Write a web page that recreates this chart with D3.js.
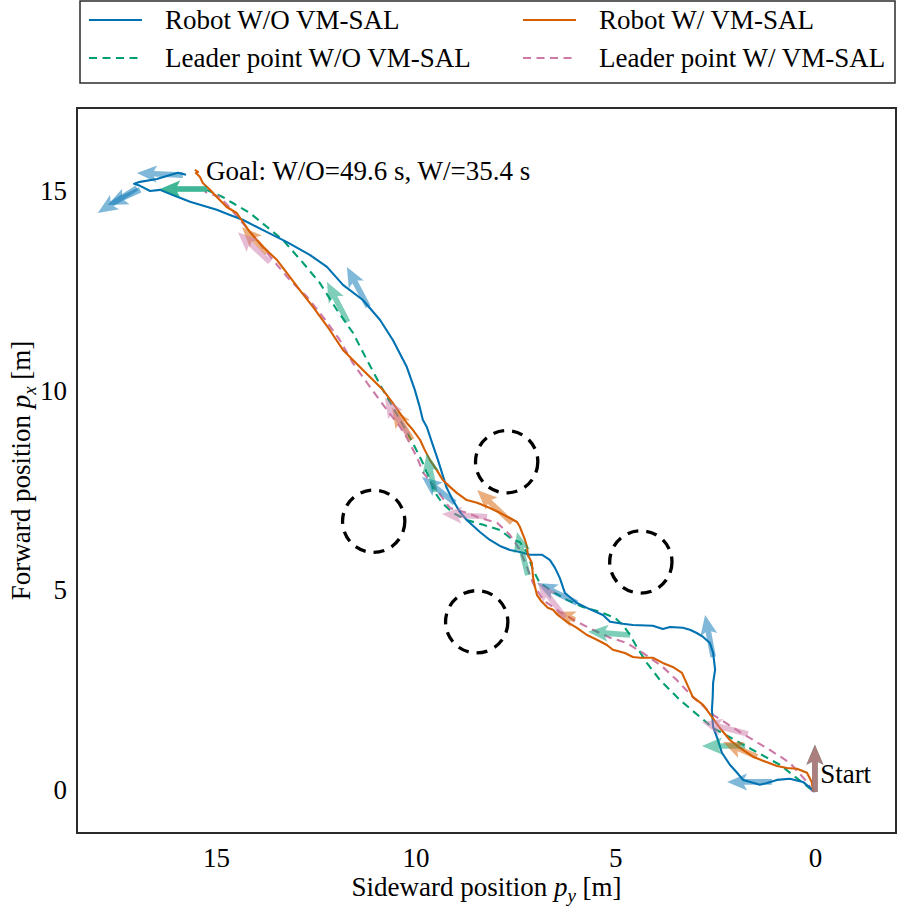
<!DOCTYPE html>
<html>
<head>
<meta charset="utf-8">
<script src="https://cdn.jsdelivr.net/npm/d3@7"></script>
<style>
  body { margin: 0; background: #fff; }
  text { font-family: "Liberation Serif", "Times New Roman", serif; }
</style>
</head>
<body>
<div id="chart"></div>
<script>
// trajectories as [sideward py, forward px] in metres
var robotWO = [[0,-0.05],[0.30,0.20],[0.63,0.28],[0.95,0.25],[1.20,0.17],[1.38,0.13],[1.55,0.18],[1.80,0.25],[1.95,0.43],[2.13,0.63],[2.33,0.93],[2.43,1.25],[2.55,1.58],[2.58,2.00],[2.56,2.33],[2.55,2.68],[2.50,3.01],[2.55,3.43],[2.63,3.68],[2.80,3.83],[2.96,3.93],[3.13,4.01],[3.31,4.06],[3.63,4.08],[3.81,4.03],[4.06,4.11],[4.56,4.13],[4.81,4.16],[5.13,4.21],[5.31,4.38],[5.71,4.56],[5.96,4.68],[6.26,4.93],[6.39,5.31],[6.51,5.56],[6.64,5.76],[6.84,5.89],[7.14,5.89],[7.39,5.96],[7.64,6.01],[7.89,6.11],[8.14,6.26],[8.39,6.46],[8.72,6.76],[8.89,6.96],[9.07,7.26],[9.22,7.56],[9.34,7.94],[9.44,8.26],[9.57,8.64],[9.72,9.09],[9.82,9.27],[9.90,9.60],[10.02,10.02],[10.22,10.59],[10.57,11.27],[10.89,11.77],[11.32,12.27],[11.82,12.65],[12.22,13.10],[12.65,13.40],[13.22,13.72],[13.82,14.02],[14.33,14.28],[14.65,14.40],[14.98,14.53],[15.65,14.73],[16.08,14.90],[16.40,15.03],[16.65,15.00],[16.90,15.13],[17.05,15.18],[16.90,15.23],[16.48,15.30],[16.15,15.40],[15.95,15.46],[15.75,15.41]];

var robotW = [[0.05,0.00],[0.08,0.20],[0.20,0.43],[0.45,0.53],[0.70,0.55],[0.95,0.60],[1.30,0.73],[1.55,0.83],[1.88,1.05],[2.13,1.25],[2.38,1.55],[2.58,1.83],[2.80,2.13],[3.06,2.33],[3.33,2.93],[3.56,3.08],[3.81,3.18],[4.06,3.31],[4.38,3.31],[4.56,3.33],[4.76,3.43],[5.06,3.51],[5.21,3.63],[5.46,3.76],[5.71,3.88],[5.96,4.06],[6.21,4.21],[6.44,4.38],[6.56,4.51],[6.69,4.56],[6.84,4.71],[6.96,4.88],[7.01,5.08],[7.06,5.33],[7.09,5.69],[7.19,5.89],[7.21,6.09],[7.26,6.26],[7.31,6.39],[7.39,6.59],[7.46,6.71],[7.64,6.81],[7.89,6.94],[8.14,7.06],[8.46,7.19],[8.72,7.26],[8.97,7.44],[9.14,7.59],[9.32,7.76],[9.47,8.01],[9.64,8.26],[9.77,8.51],[9.89,8.77],[10.07,9.02],[10.22,9.19],[10.57,9.69],[10.82,10.02],[11.32,10.52],[11.82,11.02],[12.15,11.52],[12.57,12.10],[12.90,12.52],[13.15,12.85],[13.47,13.27],[13.82,13.60],[14.15,13.97],[14.48,14.45],[14.73,14.60],[14.98,14.85],[15.15,15.03],[15.33,15.20],[15.40,15.35],[15.50,15.45],[15.45,15.48],[15.53,15.53]];

var leaderWO = [[0.08,0.00],[0.88,0.63],[1.70,1.08],[2.55,1.55],[3.38,2.25],[3.88,2.75],[4.21,3.18],[4.46,3.58],[4.63,3.88],[4.81,4.13],[5.01,4.31],[5.38,4.46],[5.81,4.58],[6.21,4.76],[6.64,5.01],[6.89,5.18],[7.06,5.51],[7.21,5.94],[7.39,6.21],[7.56,6.26],[7.89,6.51],[8.31,6.64],[8.72,6.76],[9.07,6.94],[9.34,7.19],[9.52,7.46],[9.64,7.76],[9.82,8.19],[10.02,8.59],[10.22,8.97],[10.39,9.27],[10.82,10.02],[11.22,10.77],[11.57,11.45],[11.97,12.02],[12.40,12.70],[12.82,13.20],[13.32,13.77],[13.72,14.10],[14.15,14.45],[14.58,14.70],[14.83,14.85],[15.23,15.03]];

var leaderW = [[0.05,-0.05],[0.20,0.20],[0.63,0.68],[1.13,1.00],[1.88,1.45],[2.55,1.88],[3.06,2.33],[3.46,2.75],[3.81,3.08],[4.31,3.43],[4.71,3.68],[5.13,3.81],[5.56,4.01],[5.96,4.21],[6.39,4.46],[6.81,4.76],[7.06,5.18],[7.21,5.58],[7.39,6.01],[7.64,6.39],[7.96,6.69],[8.39,6.81],[8.72,6.94],[9.14,7.06],[9.47,7.51],[9.82,7.96],[9.97,8.34],[10.22,8.82],[10.39,9.09],[10.72,9.52],[11.14,10.09],[11.57,10.69],[11.90,11.27],[12.32,11.85],[12.72,12.35],[13.15,12.77],[13.57,13.27],[13.97,13.77],[14.40,14.28],[14.65,14.58],[14.90,14.85],[15.28,14.98]];

// heading arrows [tail py, tail px, tip py, tip px]
var arrowsRobotWO = [[0,-0.05,0,1.13],[1.08,0.20,2.20,0.20],[2.55,3.33,2.75,4.38],[5.96,4.68,6.96,5.18],[9.02,7.19,9.84,7.84],[11.19,12.10,11.72,13.10],[15.83,15.40,16.98,15.45],[16.98,15.08,17.96,14.45],[16.90,15.03,17.71,14.65]];
var arrowsLeaderWO = [[0,-0.05,0,1.13],[1.75,1.10,2.83,1.10],[4.63,3.88,5.68,3.96],[7.19,5.38,7.46,6.46],[9.52,7.46,9.72,8.44],[11.70,11.72,12.22,12.72],[15.23,15.05,16.40,15.05],[15.23,15.05,16.40,15.05]];
var arrowsRobotW = [[0,-0.05,0,1.13],[1.45,0.83,2.30,1.20],[6.01,4.26,6.51,4.46],[7.59,6.69,8.46,7.51],[10.09,8.77,10.59,9.57],[13.72,13.45,14.35,14.10]];
var arrowsLeaderW = [[0,-0.05,0,1.13],[1.68,1.40,2.83,1.70],[6.26,4.31,6.94,5.21],[8.21,6.84,9.34,6.91],[10.19,8.89,10.77,9.82],[13.65,13.22,14.45,13.97]];

// obstacles [py, px]
var obstacles = [[7.72,8.22],[11.05,6.73],[8.47,4.21],[4.36,5.71]];
var obstacleRadius = 0.78;

var xTicks = [15, 10, 5, 0];
var yTicks = [0, 5, 10, 15];

var legendLabels = ["Robot W/O VM-SAL", "Robot W/ VM-SAL", "Leader point W/O VM-SAL", "Leader point W/ VM-SAL"];

var colors = {
  blue: "#0072B2",
  orange: "#D55E00",
  green: "#009E73",
  pink: "#CC79A7"
};

var svgWidth = 898;
var svgHeight = 907;

var margin = { top: 108, right: 2, bottom: 74, left: 77 };
var width = svgWidth - margin.left - margin.right;
var height = svgHeight - margin.top - margin.bottom;

var svg = d3.select("#chart")
  .append("svg")
  .attr("width", svgWidth)
  .attr("height", svgHeight);

var chartGroup = svg.append("g")
  .attr("transform", `translate(${margin.left}, ${margin.top})`);

// x axis is reversed: sideward position grows to the left
var xScale = d3.scaleLinear()
  .domain([18.48, -2.03])
  .range([0, width]);

var yScale = d3.scaleLinear()
  .domain([-1.08, 17.08])
  .range([height, 0]);

var fontSize = 27;

// axes, no tick marks
var bottomAxis = d3.axisBottom(xScale).tickValues(xTicks).tickSize(0).tickPadding(15);
var leftAxis = d3.axisLeft(yScale).tickValues(yTicks).tickSize(0).tickPadding(10);

var xAxisG = chartGroup.append("g")
  .attr("transform", `translate(0, ${height})`)
  .call(bottomAxis);
var yAxisG = chartGroup.append("g")
  .call(leftAxis);

[xAxisG, yAxisG].forEach(g => {
  g.select(".domain").remove();
  g.selectAll("text")
    .attr("font-size", fontSize)
    .attr("font-family", "Liberation Serif, serif")
    .attr("fill", "#000");
});

// clip for data marks
chartGroup.append("clipPath")
  .attr("id", "plotClip")
  .append("rect")
  .attr("width", width)
  .attr("height", height);

var dataGroup = chartGroup.append("g").attr("clip-path", "url(#plotClip)");

// obstacles
dataGroup.selectAll("circle.obstacle")
  .data(obstacles)
  .enter()
  .append("circle")
  .attr("class", "obstacle")
  .attr("cx", d => xScale(d[0]))
  .attr("cy", d => yScale(d[1]))
  .attr("r", xScale(0) - xScale(obstacleRadius))
  .attr("fill", "none")
  .attr("stroke", "#000")
  .attr("stroke-width", 3.3)
  .attr("stroke-dasharray", "11,8");

var line = d3.line()
  .x(d => xScale(d[0]))
  .y(d => yScale(d[1]));

var series = [
  { data: leaderWO, color: colors.green, dash: "8,5.5" },
  { data: leaderW, color: colors.pink, dash: "8,5.5" },
  { data: robotWO, color: colors.blue, dash: null },
  { data: robotW, color: colors.orange, dash: null }
];

series.forEach(s => {
  dataGroup.append("path")
    .datum(s.data)
    .attr("d", line)
    .attr("fill", "none")
    .attr("stroke", s.color)
    .attr("stroke-width", 2.1)
    .attr("stroke-linejoin", "round")
    .attr("stroke-dasharray", s.dash);
});

// quiver-like arrow polygon in pixel space
function arrowPath(d) {
  var x0 = xScale(d[0]), y0 = yScale(d[1]);
  var x1 = xScale(d[2]), y1 = yScale(d[3]);
  var dx = x1 - x0, dy = y1 - y0;
  var len = Math.sqrt(dx * dx + dy * dy);
  var ux = dx / len, uy = dy / len;
  var nx = -uy, ny = ux;
  var w = 2.8, hw = 8.5, hl = Math.min(20, len), ha = Math.min(17, len * 0.85);
  var pts = [
    [x0 + nx * w, y0 + ny * w],
    [x0 + ux * (len - ha) + nx * w, y0 + uy * (len - ha) + ny * w],
    [x0 + ux * (len - hl) + nx * hw, y0 + uy * (len - hl) + ny * hw],
    [x1, y1],
    [x0 + ux * (len - hl) - nx * hw, y0 + uy * (len - hl) - ny * hw],
    [x0 + ux * (len - ha) - nx * w, y0 + uy * (len - ha) - ny * w],
    [x0 - nx * w, y0 - ny * w]
  ];
  return "M" + pts.map(p => p[0].toFixed(1) + "," + p[1].toFixed(1)).join("L") + "Z";
}

var arrowSets = [
  { data: arrowsRobotWO, color: colors.blue },
  { data: arrowsLeaderWO, color: colors.green },
  { data: arrowsRobotW, color: colors.orange },
  { data: arrowsLeaderW, color: colors.pink }
];

arrowSets.forEach(a => {
  dataGroup.append("g")
    .selectAll("path")
    .data(a.data)
    .enter()
    .append("path")
    .attr("d", arrowPath)
    .attr("fill", a.color)
    .attr("fill-opacity", 0.5)
    .attr("stroke", "none");
});

// annotations
chartGroup.append("text")
  .attr("x", xScale(15.25))
  .attr("y", yScale(15.28))
  .attr("font-size", fontSize)
  .text("Goal: W/O=49.6 s, W/=35.4 s");

chartGroup.append("text")
  .attr("x", xScale(-0.13))
  .attr("y", yScale(0.18))
  .attr("font-size", fontSize)
  .text("Start");

// frame
chartGroup.append("rect")
  .attr("width", width)
  .attr("height", height)
  .attr("fill", "none")
  .attr("stroke", "#2b2b2b")
  .attr("stroke-width", 2);

// axis titles
var xTitle = svg.append("text")
  .attr("text-anchor", "middle")
  .attr("transform", `translate(${margin.left + width / 2}, 896)`)
  .attr("font-size", fontSize);
xTitle.append("tspan").text("Sideward position ");
xTitle.append("tspan").attr("font-style", "italic").text("p");
xTitle.append("tspan").attr("font-style", "italic").attr("font-size", 19).attr("dy", 6).text("y");
xTitle.append("tspan").attr("dy", -6).text(" [m]");

var yTitle = svg.append("text")
  .attr("text-anchor", "middle")
  .attr("transform", `translate(30, ${margin.top + yScale(8)})rotate(-90)`)
  .attr("font-size", fontSize);
yTitle.append("tspan").text("Forward position ");
yTitle.append("tspan").attr("font-style", "italic").text("p");
yTitle.append("tspan").attr("font-style", "italic").attr("font-size", 19).attr("dy", 6).text("x");
yTitle.append("tspan").attr("dy", -6).text(" [m]");

// legend
var legend = svg.append("g");
legend.append("rect")
  .attr("x", 80)
  .attr("y", 1)
  .attr("width", 815)
  .attr("height", 82)
  .attr("fill", "#fff")
  .attr("stroke", "#2b2b2b")
  .attr("stroke-width", 1.5);

var legendItems = [
  { label: legendLabels[0], color: colors.blue, dash: null, x: 89, y: 20 },
  { label: legendLabels[1], color: colors.orange, dash: null, x: 523, y: 20 },
  { label: legendLabels[2], color: colors.green, dash: "8,5.5", x: 89, y: 58 },
  { label: legendLabels[3], color: colors.pink, dash: "8,5.5", x: 523, y: 58 }
];

legendItems.forEach(item => {
  legend.append("line")
    .attr("x1", item.x)
    .attr("x2", item.x + 53)
    .attr("y1", item.y)
    .attr("y2", item.y)
    .attr("stroke", item.color)
    .attr("stroke-width", 2.1)
    .attr("stroke-dasharray", item.dash);
  legend.append("text")
    .attr("x", item.x + 76)
    .attr("y", item.y + 9)
    .attr("font-size", fontSize)
    .text(item.label);
});
</script>
</body>
</html>
